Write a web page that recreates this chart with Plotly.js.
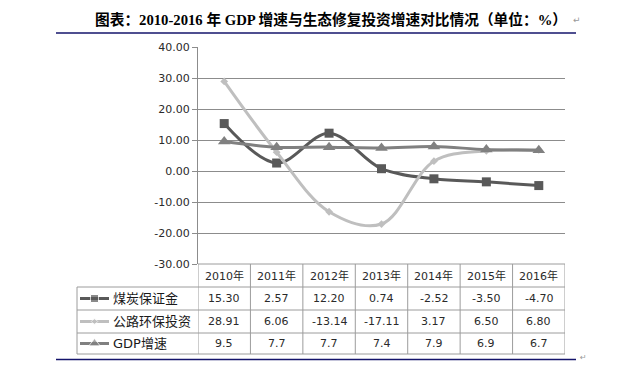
<!DOCTYPE html>
<html>
<head>
<meta charset="utf-8">
<script src="https://cdn.plot.ly/plotly-3.0.1.min.js"></script>
<style>html,body{margin:0;padding:0;background:#fff;}#chart{width:632px;height:374px;}</style>
</head>
<body>
<div id="chart"></div>
<script>
// ---- data ----
const years = ['2010年', '2011年', '2012年', '2013年', '2014年', '2015年', '2016年'];
const seriesNames = ['煤炭保证金', '公路环保投资', 'GDP增速'];
const coal = [15.30, 2.57, 12.20, 0.74, -2.52, -3.50, -4.70];
const road = [28.91, 6.06, -13.14, -17.11, 3.17, 6.50, 6.80];
const gdp = [9.5, 7.7, 7.7, 7.4, 7.9, 6.9, 6.7];
const yTicks = [-30, -20, -10, 0, 10, 20, 30, 40];
const titleText = '图表：2010-2016 年 GDP 增速与生态修复投资增速对比情况（单位：%）';

// ---- styling ----
const W = 632, H = 374;
const colors = ['#595959', '#bfbfbf', '#808080'];
const symbols = ['square', 'diamond', 'triangle-up'];
const msizes = [9, 6, 11];
const gridC = '#8c8c8c';
const tblC = '#9c9c9c';
const navy = '#14146b';
const numFont = {family: 'DejaVu Sans, Noto Sans CJK SC', size: 11, color: '#2a2a2a'};
const cjkFont = {family: 'DejaVu Sans, Noto Sans CJK SC', size: 13, color: '#1a1a1a'};

const plotL = 198, plotR = 565, plotT = 47, plotB = 264;
const rowY = [264, 287, 310, 333, 354]; // header top, row borders
const tableL = 77;

const allSeries = [coal, road, gdp];
const labels = [
  coal.map(v => v.toFixed(2)),
  road.map(v => v.toFixed(2)),
  gdp.map(v => v.toFixed(1))
];

const traces = [];
allSeries.forEach((s, i) => {
  traces.push({
    x: years, y: s, type: 'scatter', mode: 'lines+markers',
    line: {color: colors[i], width: 3, shape: 'spline', smoothing: 1},
    marker: {symbol: symbols[i], size: msizes[i], color: colors[i]},
    xaxis: 'x', yaxis: 'y', showlegend: false, hoverinfo: 'skip'
  });
});
// legend samples inside the table's label column (pixel axes)
for (let i = 0; i < 3; i++) {
  const yc = (rowY[i + 1] + rowY[i + 2]) / 2;
  traces.push({
    x: [80, 94.5, 109], y: [yc, yc, yc], type: 'scatter', mode: 'lines+markers',
    line: {color: colors[i], width: 3},
    marker: {symbol: symbols[i], size: [0, msizes[i] - 1, 0], color: colors[i]},
    xaxis: 'x2', yaxis: 'y2', showlegend: false, hoverinfo: 'skip'
  });
}

const shapes = [];
const line = (x0, y0, x1, y1, xref, color, w) => shapes.push({
  type: 'line', xref: xref || 'x2', yref: 'y2', x0, y0, x1, y1,
  line: {color: color || tblC, width: w || 1}, layer: 'above'
});
// table horizontal lines
line(plotL, rowY[0], plotR, rowY[0]);
for (let r = 1; r < rowY.length; r++) line(tableL, rowY[r], plotR, rowY[r]);
// table vertical lines
line(tableL, rowY[1], tableL, rowY[4]);
for (let k = 0; k <= years.length; k++) {
  shapes.push({type: 'line', xref: 'x', yref: 'y2', x0: k - 0.5, x1: k - 0.5, y0: rowY[0], y1: rowY[4],
    line: {color: tblC, width: 1}, layer: 'above'});
}
// document rules
line(56, 33, 576, 33, 'x2', navy, 1.5);
line(56, 359.5, 576, 359.5, 'x2', navy, 1.5);

const ann = [];
years.forEach((yr, k) => {
  ann.push({x: yr, xref: 'x', y: (rowY[0] + rowY[1]) / 2, yref: 'y2', text: yr, showarrow: false,
    font: numFont, xanchor: 'center', yanchor: 'middle'});
  for (let i = 0; i < 3; i++) {
    ann.push({x: yr, xref: 'x', y: (rowY[i + 1] + rowY[i + 2]) / 2, yref: 'y2', text: labels[i][k], showarrow: false,
      font: numFont, xanchor: 'center', yanchor: 'middle'});
  }
});
seriesNames.forEach((n, i) => {
  ann.push({x: 111, xref: 'x2', y: (rowY[i + 1] + rowY[i + 2]) / 2, yref: 'y2', text: n, showarrow: false,
    font: cjkFont, xanchor: 'left', yanchor: 'middle'});
});
ann.push({x: 93, xref: 'x2', y: 19, yref: 'y2', text: '<b>' + titleText + '</b>', showarrow: false,
  font: {family: 'Liberation Serif, Noto Sans CJK SC', size: 14.7, color: '#000'}, xanchor: 'left', yanchor: 'middle'});
ann.push({x: 571, xref: 'x2', y: 20, yref: 'y2', text: '↵', showarrow: false,
  font: {family: 'DejaVu Sans', size: 9, color: '#999'}, xanchor: 'left', yanchor: 'middle'});
ann.push({x: 578, xref: 'x2', y: 357, yref: 'y2', text: '↵', showarrow: false,
  font: {family: 'DejaVu Sans', size: 8, color: '#999'}, xanchor: 'left', yanchor: 'middle'});

const layout = {
  width: W, height: H,
  margin: {l: 0, r: 0, t: 0, b: 0},
  paper_bgcolor: '#fff', plot_bgcolor: 'rgba(0,0,0,0)',
  showlegend: false,
  xaxis: {domain: [plotL / W, plotR / W], range: [-0.5, 6.5], type: 'category',
    showticklabels: false, showgrid: false, zeroline: false, showline: false, ticks: '', fixedrange: true},
  yaxis: {domain: [(H - plotB) / H, (H - plotT) / H], range: [-30, 40],
    tickvals: yTicks, ticktext: yTicks.map(v => v.toFixed(2)),
    showgrid: true, gridcolor: gridC, gridwidth: 1, zeroline: false,
    showline: true, linecolor: gridC, linewidth: 1, ticks: 'outside', ticklen: 5, tickcolor: gridC,
    tickfont: numFont, fixedrange: true},
  xaxis2: {domain: [0, 1], range: [0, W], anchor: 'y2', visible: false, fixedrange: true},
  yaxis2: {domain: [0, 1], range: [H, 0], anchor: 'x2', visible: false, fixedrange: true},
  shapes: shapes,
  annotations: ann
};
Plotly.newPlot('chart', traces, layout, {staticPlot: true, displayModeBar: false});
</script>
</body>
</html>
